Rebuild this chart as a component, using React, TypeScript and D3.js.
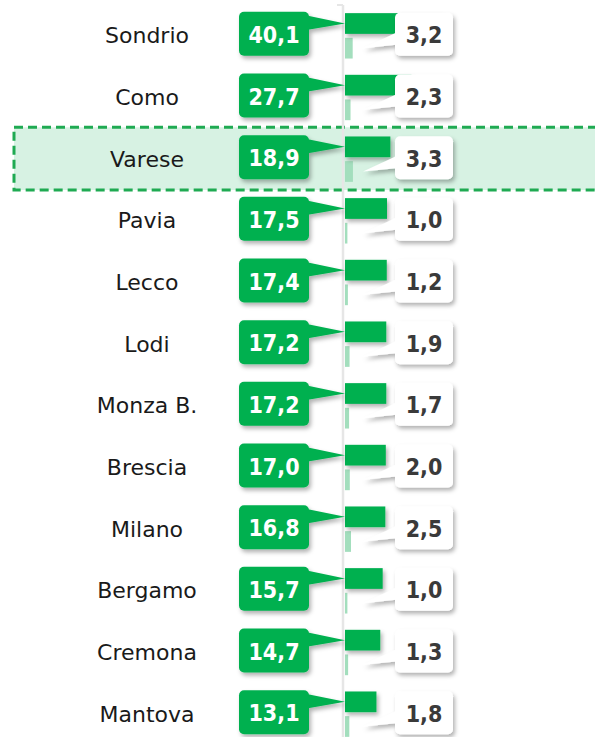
import * as d3 from 'd3';

const categories = ['Sondrio', 'Como', 'Varese', 'Pavia', 'Lecco', 'Lodi', 'Monza B.', 'Brescia', 'Milano', 'Bergamo', 'Cremona', 'Mantova'];
const mainValues = [40.1, 27.7, 18.9, 17.5, 17.4, 17.2, 17.2, 17.0, 16.8, 15.7, 14.7, 13.1];
const subValues = [3.2, 2.3, 3.3, 1.0, 1.2, 1.9, 1.7, 2.0, 2.5, 1.0, 1.3, 1.8];
const highlighted = 'Varese';

const W = 595;
const H = 737;
const GREEN = '#00b050';
const LIGHT = '#a3debd';

const fmt = (v: number) => v.toFixed(1).replace('.', ',');

export default function App() {
  const x = d3.scaleLinear().domain([0, 100]).range([345, 585]);
  const y = d3.scaleBand<string>().domain(categories).range([5, 745]);
  const sub = d3.scaleBand<string>()
    .domain(['main', 'sub'])
    .range([0, y.bandwidth()])
    .paddingInner(0.16)
    .paddingOuter(0.33);

  const x0 = x(0);
  const hy = y(highlighted)!;

  return (
    <div style={{ position: 'absolute', left: 0, top: 0 }}>
      <svg width={W} height={H} style={{ display: 'block', background: '#fff' }}>
        <defs>
          <filter id="sh" x="-20%" y="-20%" width="150%" height="160%">
            <feDropShadow dx="2" dy="3" stdDeviation="2" floodColor="#000" floodOpacity="0.3" />
          </filter>
        </defs>

        {/* highlighted row */}
        <rect x={14} y={hy - 1} width={W} height={y.bandwidth() + 1}
          fill="#d7f2e3" stroke="#1faa52" strokeWidth={3} strokeDasharray="9 5" />

        {/* axis */}
        <line x1={x0 - 2} x2={x0 - 2} y1={5} y2={H} stroke="#e6e6e6" strokeWidth={2.5} />
        <line x1={x0 - 8} x2={x0 - 2} y1={5} y2={5} stroke="#e6e6e6" strokeWidth={2} />

        {categories.map((c, i) => {
          const b = y(c)!;
          const cy = b + y.bandwidth() / 2;
          const my = b + sub('main')!;
          const sy = b + sub('sub')!;
          const bh = sub.bandwidth();

          const gRight = x0 - 36;
          const gLeft = gRight - 70;
          const gTop = cy - 24;
          const gH = 44;

          const wLeft = x0 + 50;
          const wW = 58;
          const wTop = cy - 23;
          const wH = 43;

          return (
            <g key={c}>
              <text x={147} y={cy} textAnchor="middle" dominantBaseline="central"
                fontFamily="DejaVu Sans" fontSize={22} fill="#1a1a1a">{c}</text>

              <rect x={x0} y={sy} width={x(subValues[i]) - x0} height={bh} fill={LIGHT} />
              <rect x={x0} y={my} width={x(mainValues[i]) - x0} height={bh} fill={GREEN} filter="url(#sh)" />

              <g filter="url(#sh)">
                <path d={`M${gRight - 1},${gTop + 4}L${x0},${my + bh / 2}L${gRight - 1},${gTop + 18}Z`} fill={GREEN} />
                <rect x={gLeft} y={gTop} width={gRight - gLeft} height={gH} rx={5} fill={GREEN} />
              </g>
              <text x={(gLeft + gRight) / 2} y={gTop + gH / 2 + 1} textAnchor="middle" dominantBaseline="central"
                fontFamily="DejaVu Sans Condensed, DejaVu Sans" fontWeight="bold" fontSize={23} fill="#fff">{fmt(mainValues[i])}</text>

              <g filter="url(#sh)">
                <path d={`M${wLeft + 1},${wTop + 20}L${x0 + 18},${sy + bh / 2}L${wLeft + 1},${wTop + 32}Z`} fill="#fff" />
                <rect x={wLeft} y={wTop} width={wW} height={wH} rx={5} fill="#fff" />
              </g>
              <text x={wLeft + wW / 2} y={wTop + wH / 2 + 1} textAnchor="middle" dominantBaseline="central"
                fontFamily="DejaVu Sans Condensed, DejaVu Sans" fontWeight="bold" fontSize={23} fill="#3a3a3a">{fmt(subValues[i])}</text>
            </g>
          );
        })}
      </svg>
    </div>
  );
}
